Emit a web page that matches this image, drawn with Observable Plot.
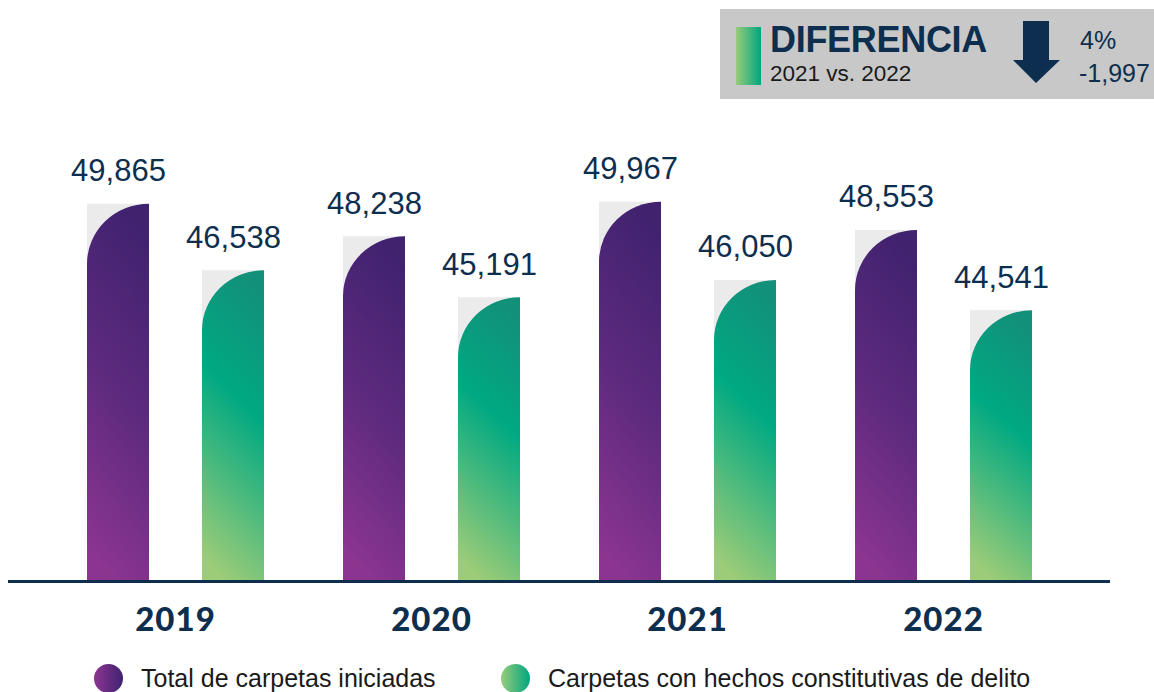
<!DOCTYPE html>
<html>
<head>
<meta charset="utf-8">
<script src="https://cdn.jsdelivr.net/npm/d3@7"></script>
<script src="https://cdn.jsdelivr.net/npm/@observablehq/plot@0.6"></script>
<style>
  html, body { margin: 0; padding: 0; background: #ffffff; }
  #wrap { position: relative; width: 1154px; height: 692px; overflow: hidden; font-family: "Liberation Sans", Arial, sans-serif; }
  #chart { position: absolute; left: 0; top: 0; }
  #chart g[aria-label^="x-axis"] text { font-family: Lato, "Open Sans", sans-serif; font-weight: 900; font-size: 33px; fill: #0d2e4e; letter-spacing: 1px; }
  .box { position: absolute; left: 720px; top: 9px; width: 434px; height: 90px; background: #c8c8c8; }
  .box .strip { position: absolute; left: 16px; top: 18px; width: 25px; height: 58px; background: linear-gradient(to right, #98cb7a, #00a680); }
  .box .t1 { position: absolute; left: 50px; top: 10px; font: 700 36px "Liberation Sans", Arial, sans-serif; color: #0d2e4e; letter-spacing: -0.3px; }
  .box .t2 { position: absolute; left: 50px; top: 52px; font: 400 22.5px "Liberation Sans", Arial, sans-serif; color: #1a1a1a; }
  .box .arrow { position: absolute; left: 293px; top: 12px; }
  .box .v1 { position: absolute; left: 360px; top: 17px; font: 400 25px "Liberation Sans", Arial, sans-serif; color: #0d2e4e; }
  .box .v2 { position: absolute; left: 359px; top: 50px; font: 400 25px "Liberation Sans", Arial, sans-serif; color: #0d2e4e; }
  .legend { position: absolute; top: 664px; display: flex; align-items: center; font: 400 25px "Liberation Sans", Arial, sans-serif; color: #1a1a1a; }
  .legend .dot { width: 29px; height: 29px; border-radius: 50%; margin-right: 18px; }
</style>
</head>
<body>
<div id="wrap">
  <div id="chart"></div>
</div>
<script>
// ---- data ----
const years = ["2019", "2020", "2021", "2022"];
const totalCarpetas = [49865, 48238, 49967, 48553];
const carpetasDelito = [46538, 45191, 46050, 44541];
const seriesNames = ["Total de carpetas iniciadas", "Carpetas con hechos constitutivas de delito"];
const diffTitle = "DIFERENCIA";
const diffSubtitle = "2021 vs. 2022";
const diffPct = "4%";
const diffAbs = "-1,997";

const yBase = 31000;
const fmt = d3.format(",");

const rowsP = years.map((y, i) => ({year: y, value: totalCarpetas[i]}));
const rowsG = years.map((y, i) => ({year: y, value: carpetasDelito[i]}));

// band of 256px per year; bars of 62px placed inside each band
const insP = {insetLeft: 40, insetRight: 154};
const insG = {insetLeft: 155, insetRight: 39};

const svg = Plot.plot({
  width: 1154,
  height: 692,
  marginTop: 181,
  marginBottom: 111,
  marginLeft: 8,
  marginRight: 44,
  style: {background: "transparent", overflow: "visible"},
  x: {domain: years, padding: 0, paddingOuter: 0.152, align: 0.5, tickSize: 0, tickPadding: 26, label: null},
  y: {domain: [yBase, 51000], axis: null},
  marks: [
    Plot.barY(rowsP, {x: "year", y1: () => yBase, y2: "value", fill: "#ebebeb", ...insP}),
    Plot.barY(rowsG, {x: "year", y1: () => yBase, y2: "value", fill: "#ebebeb", ...insG}),
    Plot.barY(rowsP, {x: "year", y1: () => yBase, y2: "value", fill: "url(#gradP)", className: "barP", ...insP}),
    Plot.barY(rowsG, {x: "year", y1: () => yBase, y2: "value", fill: "url(#gradG)", className: "barG", ...insG}),
    Plot.ruleY([yBase], {stroke: "#0d2e4e", strokeWidth: 3}),
    Plot.text(rowsP, {x: "year", y: "value", text: d => fmt(d.value), dx: -57, dy: -33, fontSize: 31, fill: "#0d2e4e", fontFamily: "Liberation Sans, Arial, sans-serif"}),
    Plot.text(rowsG, {x: "year", y: "value", text: d => fmt(d.value), dx: 58, dy: -33, fontSize: 31, fill: "#0d2e4e", fontFamily: "Liberation Sans, Arial, sans-serif"})
  ]
});

// gradients
const ns = "http://www.w3.org/2000/svg";
const defs = document.createElementNS(ns, "defs");
defs.innerHTML = `
  <linearGradient id="gradP" x1="0.6" y1="0" x2="0.4" y2="1">
    <stop offset="0" stop-color="#40226f"/>
    <stop offset="0.5" stop-color="#5d2a7e"/>
    <stop offset="1" stop-color="#8c3590"/>
  </linearGradient>
  <linearGradient id="gradG" x1="0.6" y1="0" x2="0.4" y2="1">
    <stop offset="0" stop-color="#12907a"/>
    <stop offset="0.4" stop-color="#00a982"/>
    <stop offset="1" stop-color="#9ccc78"/>
  </linearGradient>`;
svg.insertBefore(defs, svg.firstChild);

// round the top-left corner of each coloured bar
function roundTopLeft(cls) {
  svg.querySelectorAll("g." + cls + " rect").forEach(r => {
    const x = +r.getAttribute("x"), y = +r.getAttribute("y");
    const w = +r.getAttribute("width"), h = +r.getAttribute("height");
    const rx = w, ry = Math.min(60, h);
    const p = document.createElementNS(ns, "path");
    p.setAttribute("d", `M${x},${y + h}L${x},${y + ry}A${rx},${ry} 0 0 1 ${x + rx},${y}L${x + w},${y}L${x + w},${y + h}Z`);
    for (const a of ["fill", "transform"]) if (r.getAttribute(a)) p.setAttribute(a, r.getAttribute(a));
    r.replaceWith(p);
  });
}
roundTopLeft("barP");
roundTopLeft("barG");

document.getElementById("chart").appendChild(svg);

// annotation box
const wrap = document.getElementById("wrap");
const box = document.createElement("div");
box.className = "box";
box.innerHTML = `<div class="strip"></div>
  <div class="t1"></div><div class="t2"></div>
  <svg class="arrow" width="50" height="64"><polygon points="10,0 36,0 36,39 47,39 23,62 0,39 10,39" fill="#0d2e4e"/></svg>
  <div class="v1"></div><div class="v2"></div>`;
box.querySelector(".t1").textContent = diffTitle;
box.querySelector(".t2").textContent = diffSubtitle;
box.querySelector(".v1").textContent = diffPct;
box.querySelector(".v2").textContent = diffAbs;
wrap.appendChild(box);

// legend
const legendDefs = [
  {name: seriesNames[0], left: 94, bg: "linear-gradient(to right, #8d3591, #3f2271)"},
  {name: seriesNames[1], left: 501, bg: "linear-gradient(to right, #98cb7a, #00a680)"}
];
for (const l of legendDefs) {
  const el = document.createElement("div");
  el.className = "legend";
  el.style.left = l.left + "px";
  const dot = document.createElement("div");
  dot.className = "dot";
  dot.style.background = l.bg;
  const t = document.createElement("span");
  t.textContent = l.name;
  el.appendChild(dot); el.appendChild(t);
  wrap.appendChild(el);
}
</script>
</body>
</html>
